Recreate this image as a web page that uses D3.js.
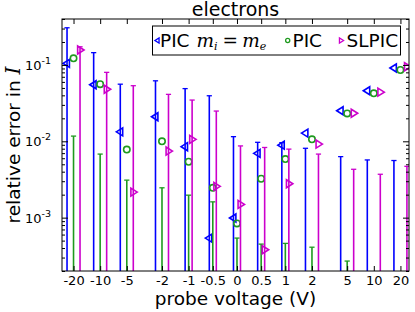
<!DOCTYPE html>
<html>
<head>
<meta charset="utf-8">
<script src="https://cdn.jsdelivr.net/npm/d3@7/dist/d3.min.js"></script>
<style>
body { margin: 0; background: #fff; }
text { font-family: "DejaVu Sans", sans-serif; fill: #000; }
</style>
</head>
<body>
<script>
// probe voltages and their tick labels
var voltages = [-20, -10, -5, -2, -1, -0.5, 0, 0.5, 1, 2, 5, 10, 20];
var voltageLabels = ["-20", "-10", "-5", "-2", "-1", "-0.5", "0", "0.5", "1", "2", "5", "10", "20"];

// PIC with m_i = m_e
var picEqual    = [0.105, 0.055, 0.0133, 0.021, 0.0085, 0.00054, 0.00099, 0.00695, 0.0089, 0.0128, 0.0251, 0.0459, 0.0912];
var picEqualErr = [0.307, 0.145, 0.056, 0.062, 0.049, 0.0395, 0.0115, 0.0097, 0.0096, 0.0081, 0.0063, 0.0057, 0.0056];

// PIC
var pic    = [0.122, 0.056, 0.0078, 0.0100, 0.0054, 0.00246, 0.00084, 0.00323, 0.00585, 0.0106, 0.0232, 0.0425, 0.0859];
var picErr = [0.0117, 0.0068, 0.0031, 0.00246, 0.00197, 0.00161, 0.00054, 0.00045, 0.00046, 0.00041, 0.00027, 0.00015, 0.00014];

// SLPIC
var slpic    = [0.157, 0.048, 0.00216, 0.00745, 0.0106, 0.00257, 0.00149, 0.00038, 0.00278, 0.0092, 0.0233, 0.044, 0.0948];
var slpicErr = [0.173, 0.080, 0.0535, 0.0412, 0.0347, 0.0249, 0.0087, 0.0083, 0.0079, 0.0068, 0.0043, 0.0037, 0.0047];

var yMajor = [1e-3, 1e-2, 1e-1];
var yMajorExp = ["-3", "-2", "-1"];

var width = 415,
    height = 312;
// plot box
var pL = 62, pR = 409, pT = 19, pB = 271;

// linear inside |V|<=1, log2 outside
var linPart = 1.816;
function tf(v) {
  var a = Math.abs(v);
  var t = a <= 1 ? a * linPart : linPart + Math.log2(a);
  return v < 0 ? -t : t;
}

var x = d3.scaleLinear().domain([tf(-27), tf(25)]).range([pL, pR]);
var y = d3.scaleLog().domain([2e-4, 0.4]).range([pB, pT]);

var svg = d3.select("body").append("svg")
    .attr("width", width)
    .attr("height", height);

svg.append("clipPath").attr("id", "plotclip")
  .append("rect")
    .attr("x", pL).attr("y", pT)
    .attr("width", pR - pL).attr("height", pB - pT);

var series = [
  {vals: picEqual, errs: picEqualErr, color: "#0000ff", marker: "left", side: -1},
  {vals: pic, errs: picErr, color: "#1f9a1f", marker: "circle", side: 0},
  {vals: slpic, errs: slpicErr, color: "#cc00cc", marker: "right", side: 1}
];

function xpos(i, side) {
  var dx = Math.abs(voltages[i]) > 1 ? 6.5 : 3.5;
  return x(tf(voltages[i])) + side * dx;
}

function drawMarker(g, kind, cx, cy, s, color, sw) {
  if (kind === "circle") {
    g.append("circle").attr("cx", cx).attr("cy", cy).attr("r", s * 0.8)
      .attr("fill", "none").attr("stroke", color).attr("stroke-width", sw);
  } else {
    var d = kind === "left" ? -1 : 1;
    var pts = [[cx + d * s, cy], [cx - d * s * 0.6, cy - s], [cx - d * s * 0.6, cy + s]];
    g.append("path").attr("d", "M" + pts.join("L") + "Z")
      .attr("fill", "none").attr("stroke", color).attr("stroke-width", sw)
      .attr("stroke-linejoin", "miter");
  }
}

var plot = svg.append("g").attr("clip-path", "url(#plotclip)");

series.forEach(function(s) {
  var g = plot.append("g");
  voltages.forEach(function(v, i) {
    var px = xpos(i, s.side);
    var ye = y(s.errs[i]);
    g.append("line")
      .attr("x1", px).attr("x2", px)
      .attr("y1", ye).attr("y2", pB + 10)
      .attr("stroke", s.color).attr("stroke-width", 1.6);
    g.append("line")
      .attr("x1", px - 2.6).attr("x2", px + 2.6)
      .attr("y1", ye).attr("y2", ye)
      .attr("stroke", s.color).attr("stroke-width", 1.3);
    drawMarker(g, s.marker, px, y(s.vals[i]), 4, s.color, 1.6);
  });
});

// x axes, ticks pointing inward
svg.append("g")
    .attr("transform", "translate(0," + pB + ")")
    .call(d3.axisBottom(x)
      .tickValues(voltages.map(tf))
      .tickFormat(function(d, i) { return voltageLabels[i]; })
      .tickSizeInner(-5).tickSizeOuter(0).tickPadding(5))
    .call(function(g) {
      g.select(".domain").remove();
      g.attr("font-size", null).attr("font-family", null);
      g.selectAll("text").style("font-size", "13px");
    });

svg.append("g")
    .attr("transform", "translate(0," + pT + ")")
    .call(d3.axisTop(x)
      .tickValues(voltages.map(tf))
      .tickFormat("")
      .tickSizeInner(-5).tickSizeOuter(0))
    .call(function(g) { g.select(".domain").remove(); });

// y minor ticks
var yMinor = [];
[1e-4, 1e-3, 1e-2, 1e-1].forEach(function(p) {
  for (var k = 2; k <= 9; k++) {
    var v = k * p;
    if (v >= 2e-4 && v <= 0.4) yMinor.push(v);
  }
});

[[d3.axisLeft, pL], [d3.axisRight, pR]].forEach(function(a) {
  svg.append("g")
      .attr("transform", "translate(" + a[1] + ",0)")
      .call(a[0](y).tickValues(yMinor).tickFormat("").tickSizeInner(-3).tickSizeOuter(0))
      .call(function(g) { g.select(".domain").remove(); });
  svg.append("g")
      .attr("transform", "translate(" + a[1] + ",0)")
      .call(a[0](y).tickValues(yMajor).tickFormat("").tickSizeInner(-6).tickSizeOuter(0))
      .call(function(g) { g.select(".domain").remove(); });
});

// y tick labels as 10^n
yMajor.forEach(function(v, i) {
  var t = svg.append("text")
      .attr("x", 51).attr("y", y(v) + 5)
      .attr("text-anchor", "end")
      .style("font-size", "13px");
  t.append("tspan").text("10");
  t.append("tspan").attr("dy", -6).style("font-size", "9.5px").text(yMajorExp[i]);
});

// frame
svg.append("rect")
    .attr("x", pL).attr("y", pT)
    .attr("width", pR - pL).attr("height", pB - pT)
    .attr("fill", "none").attr("stroke", "#000").attr("stroke-width", 1);

// title and axis labels
svg.append("text")
    .attr("x", (pL + pR) / 2).attr("y", 15.5)
    .attr("text-anchor", "middle")
    .style("font-size", "19px")
    .text("electrons");

svg.append("text")
    .attr("x", (pL + pR) / 2).attr("y", 305)
    .attr("text-anchor", "middle")
    .style("font-size", "18.5px")
    .text("probe voltage (V)");

var ylab = svg.append("text")
    .attr("transform", "translate(20," + ((pT + pB) / 2) + ") rotate(-90)")
    .attr("text-anchor", "middle")
    .style("font-size", "18.5px");
ylab.append("tspan").text("relative error in ");
ylab.append("tspan").style("font-family", "DejaVu Serif").style("font-style", "italic").style("font-size", "20px").text("I");

// legend
var lg = svg.append("g");
lg.append("rect")
    .attr("x", 152.5).attr("y", 26)
    .attr("width", 248).attr("height", 29)
    .attr("fill", "#fff").attr("stroke", "#000").attr("stroke-width", 1);

var ly = 40.5, lb = 47;
drawMarker(lg, "left", 157.5, ly, 2.6, "#0000ff", 1.3);
var t1 = lg.append("text").attr("x", 160).attr("y", lb).style("font-size", "18.5px");
t1.append("tspan").text("PIC");
t1.append("tspan").attr("dx", 7).style("font-family", "DejaVu Serif").style("font-style", "italic").text("m");
t1.append("tspan").attr("dy", 3).style("font-size", "11px").style("font-family", "DejaVu Serif").style("font-style", "italic").text("i");
t1.append("tspan").attr("dy", -3).attr("dx", 5).style("font-family", "DejaVu Serif").text("=");
t1.append("tspan").attr("dx", 4).style("font-family", "DejaVu Serif").style("font-style", "italic").text("m");
t1.append("tspan").attr("dy", 3).style("font-size", "11px").style("font-family", "DejaVu Serif").style("font-style", "italic").text("e");

drawMarker(lg, "circle", 287.7, ly, 2.6, "#1f9a1f", 1.3);
lg.append("text").attr("x", 292.5).attr("y", lb).style("font-size", "18.5px").text("PIC");

drawMarker(lg, "right", 341, ly, 2.6, "#cc00cc", 1.3);
lg.append("text").attr("x", 346.5).attr("y", lb).style("font-size", "18.5px").text("SLPIC");
</script>
</body>
</html>
